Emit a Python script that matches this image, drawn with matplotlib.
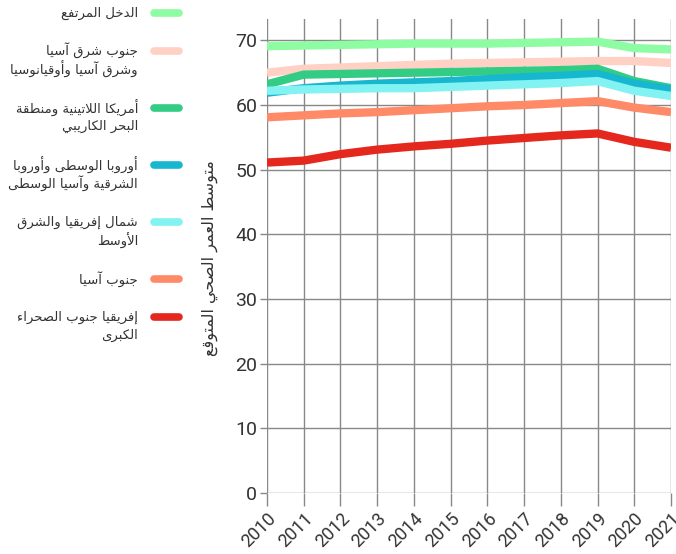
import matplotlib
matplotlib.use("Agg")
import matplotlib.pyplot as plt
from matplotlib.lines import Line2D

# ==========================================
# Data
# ==========================================
years = list(range(2010, 2022))

high_income   = [69.1, 69.2, 69.3, 69.4, 69.5, 69.5, 69.5, 69.6, 69.7, 69.8, 68.8, 68.6]
east_asia     = [65.0, 65.6, 65.8, 66.0, 66.2, 66.4, 66.5, 66.6, 66.7, 66.8, 66.8, 66.5]
latin_america = [63.2, 64.7, 64.8, 64.9, 65.0, 65.1, 65.2, 65.3, 65.4, 65.6, 63.7, 62.6]
europe_ca     = [61.9, 62.6, 63.0, 63.3, 63.5, 63.7, 64.0, 64.3, 64.5, 64.8, 63.3, 62.4]
mena          = [62.2, 62.4, 62.5, 62.6, 62.6, 62.8, 63.0, 63.2, 63.4, 63.7, 62.2, 61.4]
south_asia    = [58.1, 58.4, 58.7, 58.9, 59.2, 59.5, 59.8, 60.0, 60.3, 60.6, 59.6, 58.9]
ssa           = [51.1, 51.4, 52.4, 53.1, 53.6, 54.0, 54.5, 54.9, 55.3, 55.6, 54.3, 53.4]

series = [high_income, east_asia, latin_america, europe_ca, mena, south_asia, ssa]
labels = [
    "الدخل المرتفع",
    "جنوب شرق آسيا\nوشرق آسيا وأوقيانوسيا",
    "أمريكا اللاتينية ومنطقة\nالبحر الكاريبي",
    "أوروبا الوسطى وأوروبا\nالشرقية وآسيا الوسطى",
    "شمال إفريقيا والشرق\nالأوسط",
    "جنوب آسيا",
    "إفريقيا جنوب الصحراء\nالكبرى",
]
colors = ["#8dfca2", "#ffd0c4", "#33cc85", "#17b8cf", "#82f2f2", "#ff8a68", "#e4281e"]
y_label = "متوسط العمر الصحي المتوقع"

# ==========================================
# Arabic shaping (matplotlib has no shaping/bidi)
# base = isolated form, n = number of forms (iso, fin, ini, med)
# ==========================================
FORMS = {
    'ء': (0xFE80, 1), 'آ': (0xFE81, 2), 'أ': (0xFE83, 2), 'ؤ': (0xFE85, 2),
    'إ': (0xFE87, 2), 'ئ': (0xFE89, 4), 'ا': (0xFE8D, 2), 'ب': (0xFE8F, 4),
    'ة': (0xFE93, 2), 'ت': (0xFE95, 4), 'ث': (0xFE99, 4), 'ج': (0xFE9D, 4),
    'ح': (0xFEA1, 4), 'خ': (0xFEA5, 4), 'د': (0xFEA9, 2), 'ذ': (0xFEAB, 2),
    'ر': (0xFEAD, 2), 'ز': (0xFEAF, 2), 'س': (0xFEB1, 4), 'ش': (0xFEB5, 4),
    'ص': (0xFEB9, 4), 'ض': (0xFEBD, 4), 'ط': (0xFEC1, 4), 'ظ': (0xFEC5, 4),
    'ع': (0xFEC9, 4), 'غ': (0xFECD, 4), 'ف': (0xFED1, 4), 'ق': (0xFED5, 4),
    'ك': (0xFED9, 4), 'ل': (0xFEDD, 4), 'م': (0xFEE1, 4), 'ن': (0xFEE5, 4),
    'ه': (0xFEE9, 4), 'و': (0xFEED, 2), 'ى': (0xFEEF, 2), 'ي': (0xFEF1, 4),
    'لآ': (0xFEF5, 2), 'لأ': (0xFEF7, 2), 'لإ': (0xFEF9, 2), 'لا': (0xFEFB, 2),
}


def shape_line(line):
    chars = []
    i = 0
    while i < len(line):
        if line[i:i + 2] in FORMS and len(line[i:i + 2]) == 2:
            chars.append(line[i:i + 2])
            i += 2
        else:
            chars.append(line[i])
            i += 1
    out = []
    for k, c in enumerate(chars):
        if c not in FORMS:
            out.append(c)
            continue
        base, n = FORMS[c]
        prev = chars[k - 1] if k > 0 else None
        nxt = chars[k + 1] if k + 1 < len(chars) else None
        join_prev = n >= 2 and prev in FORMS and FORMS[prev][1] == 4
        join_next = n == 4 and nxt in FORMS and FORMS[nxt][1] >= 2
        if join_prev and join_next:
            f = 3
        elif join_next:
            f = 2
        elif join_prev:
            f = 1
        else:
            f = 0
        out.append(chr(base + f))
    return ''.join(reversed(out))


# ==========================================
# Plot
# ==========================================
W, H = 676, 554
fig = plt.figure(figsize=(W / 100, H / 100), dpi=100)
ax = fig.add_axes([267 / W, 1 - 493 / H, (671 - 267) / W, (493 - 19) / H])

for vals, c in zip(series, colors):
    ax.plot(years, vals, color=c, lw=6, solid_capstyle='butt', solid_joinstyle='miter')

ax.set_xlim(2010, 2021)
ax.set_ylim(0, 73.3)
ax.set_xticks(years)
ax.set_yticks(range(0, 71, 10))
ax.set_xticklabels([str(y) for y in years], rotation=45, ha='right',
                   rotation_mode='anchor', fontsize=13, color='#333333',
                   family='Roboto')
ax.set_yticklabels([str(v) for v in range(0, 71, 10)], fontsize=14,
                   color='#333333', family='Roboto')
ax.tick_params(axis='x', length=9, width=1, color='#888888', pad=3)
ax.tick_params(axis='y', length=5, width=1, color='#888888', pad=2)
ax.grid(True, color='#888888', lw=1)
ax.set_axisbelow(True)
for s in ax.spines.values():
    s.set_visible(False)

fig.text(210 / W, 1 - 258 / H, shape_line(y_label), rotation=90, ha='center',
         va='center', fontsize=11.5, color='#333333', family='DejaVu Sans')

# legend drawn by hand on the left
y = 13
for lab, c in zip(labels, colors):
    lines = lab.split('\n')
    fig.add_artist(Line2D([154 / W, 179 / W], [1 - y / H, 1 - y / H],
                          transform=fig.transFigure, color=c, lw=5.5,
                          solid_capstyle='round'))
    for j, ln in enumerate(lines):
        fig.text(138 / W, 1 - (y + j * 18.5) / H, shape_line(ln), ha='right',
                 va='center', fontsize=9.5, color='#333333', family='DejaVu Sans')
    y += (len(lines) + 1) * 19

fig.savefig("out.png", dpi=100)
